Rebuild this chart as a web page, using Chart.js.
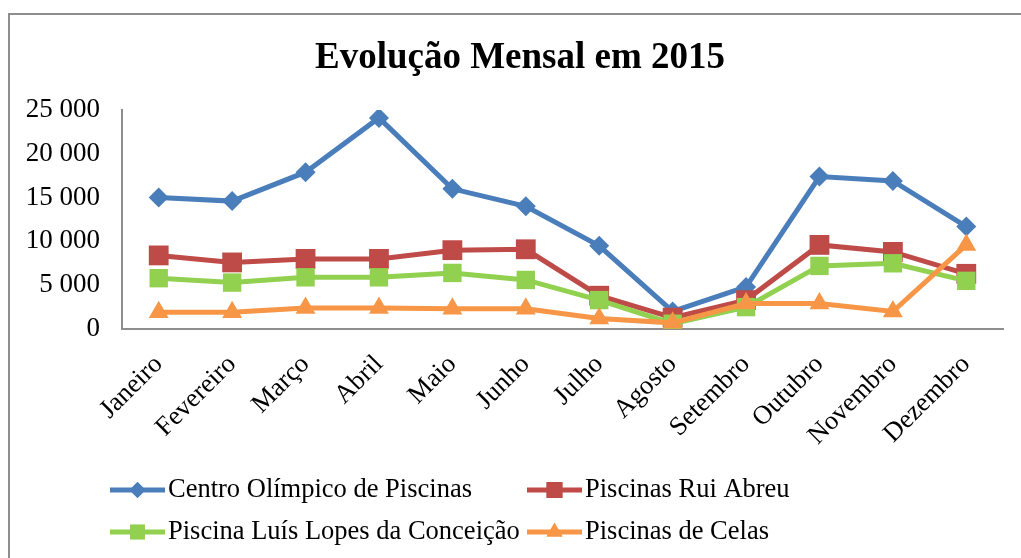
<!DOCTYPE html>
<html>
<head>
<meta charset="utf-8">
<script src="https://cdn.jsdelivr.net/npm/chart.js@4"></script>
<style>
  html, body { margin: 0; padding: 0; background: #fff; overflow: hidden; }
  #frame {
    position: absolute; left: 8px; top: 13px;
    width: 1100px; height: 600px;
    border: 2px solid #8e8e8e;
  }
  #chart { position: absolute; left: 0; top: 0; }
</style>
</head>
<body>
<div id="frame"></div>
<canvas id="chart" width="1021" height="558"></canvas>
<script>
// Data
const months = ["Janeiro", "Fevereiro", "Março", "Abril", "Maio", "Junho",
  "Julho", "Agosto", "Setembro", "Outubro", "Novembro", "Dezembro"];
const centroOlimpico = [15000, 14600, 17900, 24100, 16000, 14000, 9500, 2000, 4800, 17400, 16900, 11700];
const ruiAbreu = [8400, 7600, 8000, 8000, 9000, 9100, 3800, 1300, 3300, 9600, 8800, 6300];
const luisLopes = [5800, 5300, 5900, 5900, 6400, 5600, 3300, 600, 2500, 7200, 7500, 5500];
const celas = [1900, 1900, 2400, 2400, 2300, 2300, 1200, 700, 2900, 2900, 2000, 9600];
const seriesNames = ["Centro Olímpico de Piscinas", "Piscinas Rui Abreu",
  "Piscina Luís Lopes da Conceição", "Piscinas de Celas"];
const yTicks = [0, 5000, 10000, 15000, 20000, 25000];
const chartTitle = "Evolução Mensal em 2015";

const FONT = "'Liberation Serif', 'Times New Roman', serif";

function fmt(v) {
  return String(v).replace(/\B(?=(\d{3})+(?!\d))/g, " ");
}

// title + legend drawn by hand so they sit where the original puts them
const decorations = {
  id: "decorations",
  afterDraw(chart) {
    const ctx = chart.ctx;
    ctx.save();
    ctx.fillStyle = "#000";
    ctx.font = "bold 37px " + FONT;
    ctx.textAlign = "center";
    ctx.textBaseline = "middle";
    ctx.fillText(chartTitle, 520, 58);
    ctx.restore();

    const cols = [110, 527];
    const rows = [490, 532];
    chart.data.datasets.forEach((ds, i) => {
      const x = cols[i % 2];
      const y = rows[Math.floor(i / 2)];
      ctx.save();
      ctx.strokeStyle = ds.borderColor;
      ctx.lineWidth = 5;
      ctx.beginPath();
      ctx.moveTo(x, y);
      ctx.lineTo(x + 55, y);
      ctx.stroke();
      ctx.fillStyle = ds.borderColor;
      Chart.helpers.drawPoint(ctx, {
        pointStyle: ds.pointStyle,
        radius: ds.pointRadius * 0.8,
        rotation: 0,
        borderWidth: 0
      }, x + 27.5, y);
      ctx.fill();
      ctx.fillStyle = "#000";
      ctx.font = "26.5px " + FONT;
      ctx.textBaseline = "middle";
      ctx.textAlign = "left";
      ctx.fillText(ds.label, x + 58, y);
      ctx.restore();
    });
  }
};

const colors = ["#4a7ebb", "#be4b48", "#92d050", "#f79646"];
const styles = ["rectRot", "rect", "rect", "triangle"];
const radii = [10, 14, 13, 11.5];
const values = [centroOlimpico, ruiAbreu, luisLopes, celas];

const datasets = values.map((vals, i) => ({
  label: seriesNames[i],
  data: vals,
  borderColor: colors[i],
  backgroundColor: colors[i],
  borderWidth: 5,
  pointStyle: styles[i],
  pointRadius: radii[i],
  pointBorderWidth: 0,
  pointBackgroundColor: colors[i],
  tension: 0,
  order: 4 - i
}));

new Chart(document.getElementById("chart"), {
  type: "line",
  data: { labels: months, datasets: datasets },
  options: {
    responsive: false,
    animation: false,
    layout: { padding: { left: 0, right: 18, top: 110, bottom: 0 } },
    scales: {
      x: {
        offset: true,
        grid: { display: false, drawTicks: false },
        border: { display: true, color: "#8e8e8e", width: 2 },
        ticks: {
          color: "#000",
          font: { family: FONT, size: 26.5 },
          maxRotation: 45,
          minRotation: 45,
          padding: 20,
          autoSkip: false
        },
        afterFit(scale) { scale.height = 229; }
      },
      y: {
        min: 0,
        max: 25000,
        afterBuildTicks(scale) { scale.ticks = yTicks.map(v => ({ value: v })); },
        grid: { display: false, drawTicks: false },
        border: { display: true, color: "#8e8e8e", width: 2 },
        ticks: {
          color: "#000",
          font: { family: FONT, size: 27 },
          padding: 22,
          callback: (v) => fmt(v)
        },
        afterFit(scale) { scale.width = 122; }
      }
    },
    plugins: {
      legend: { display: false },
      tooltip: { enabled: false },
      title: { display: false }
    }
  },
  plugins: [decorations]
});
</script>
</body>
</html>
